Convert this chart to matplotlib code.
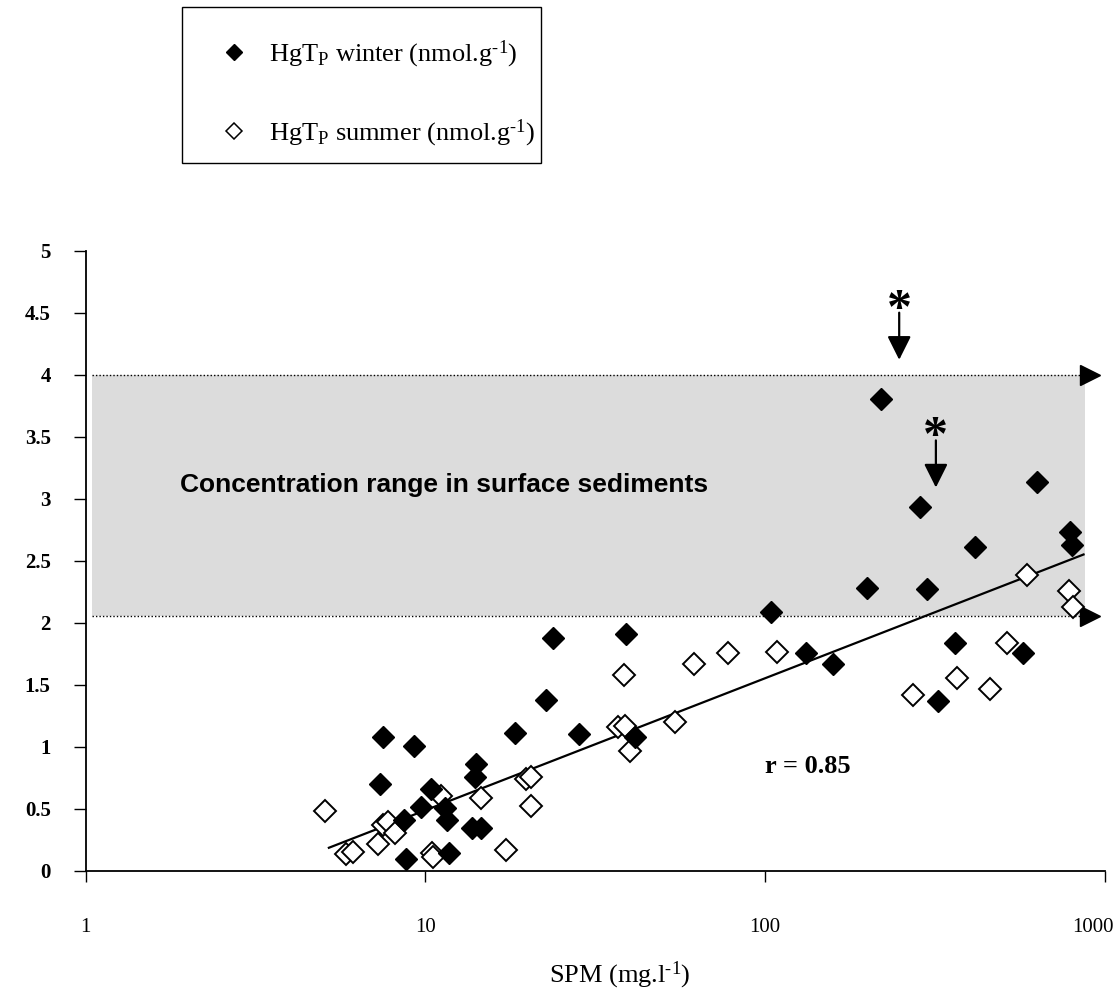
import matplotlib
matplotlib.use("Agg")
import matplotlib.pyplot as plt
import matplotlib.transforms as mtransforms
from matplotlib.lines import Line2D
from matplotlib.patches import Rectangle

plt.rcParams['font.family'] = ['Liberation Serif', 'DejaVu Serif']
plt.rcParams['mathtext.fontset'] = 'custom'
plt.rcParams['mathtext.rm'] = 'Liberation Serif'
plt.rcParams['mathtext.it'] = 'Liberation Serif:italic'
plt.rcParams['mathtext.bf'] = 'Liberation Serif:bold'

# HgTp winter (filled diamonds)
winter_spm = [23.7, 38.9, 22.6, 18.35, 28.4, 41.4, 7.49, 9.26, 14.09, 14.0,
              7.35, 10.36, 9.69, 11.42, 11.55, 8.65, 13.68, 14.55, 8.77, 11.76,
              131.8, 158, 361.8, 321.9, 572.7,
              219.6, 285.5, 629.6, 415.3, 788.9, 798, 198.9, 298.7, 103.8]
winter_hg = [1.874, 1.909, 1.377, 1.113, 1.10, 1.076, 1.076, 1.006, 0.858, 0.753,
             0.699, 0.656, 0.516, 0.503, 0.409, 0.409, 0.342, 0.342, 0.092, 0.14,
             1.753, 1.667, 1.834, 1.371, 1.758,
             3.804, 2.935, 3.132, 2.608, 2.729, 2.627, 2.277, 2.272, 2.084]

# HgTp summer (open diamonds)
summer_spm = [5.06, 5.84, 6.14, 7.24, 7.52, 7.78, 8.14, 11.1, 10.43, 10.5,
              14.6, 17.3, 19.8, 20.5, 20.4, 36.96, 38.7, 40.0, 38.4, 54.3,
              61.7, 77.6, 108.5, 272.9, 367.6, 458.7, 513.6, 588.5, 785, 806.5]
summer_hg = [0.484, 0.132, 0.153, 0.213, 0.369, 0.395, 0.306, 0.602, 0.14, 0.108,
             0.584, 0.167, 0.737, 0.758, 0.522, 1.161, 1.167, 0.965, 1.578, 1.202,
             1.667, 1.753, 1.761, 1.417, 1.557, 1.463, 1.834, 2.385, 2.258, 2.124]

# regression line end points
trend_spm = [5.2, 865]
trend_hg = [0.185, 2.55]

# surface sediment range
band_low, band_high = 2.05, 4.0
band_spm = [1.045, 873]
band_arrow_spm = 903

# flagged samples (asterisk + arrow)
flag_spm = [248, 318]
flag_top = [4.50, 3.47]
flag_tip = [4.12, 3.09]
flag_star = [4.42, 3.39]

x_ticks = [1, 10, 100, 1000]
x_ticklabels = ['1', '10', '100', '1000']
y_ticks = [0, 0.5, 1, 1.5, 2, 2.5, 3, 3.5, 4, 4.5, 5]
y_ticklabels = ['0', '0.5', '1', '1.5', '2', '2.5', '3', '3.5', '4', '4.5', '5']

fig = plt.figure(figsize=(11.16, 9.9), dpi=100)
ax = fig.add_axes([0.0767, 0.1205, 0.9134, 0.6263])

ax.fill_between(band_spm, band_low, band_high, color='#dcdcdc', lw=0, zorder=0)
ax.hlines([band_low, band_high], band_spm[0], band_spm[1], colors='k',
          linestyles=(0, (1, 1.5)), lw=1, zorder=1)
ax.plot([band_arrow_spm, band_arrow_spm], [band_high, band_low], ls='none',
        marker='>', ms=14.5, color='k', clip_on=False, zorder=2)

ax.plot(trend_spm, trend_hg, color='k', lw=1.6, zorder=2)

ax.plot(summer_spm, summer_hg, ls='none', marker='D', ms=11.2, mfc='white',
        mec='k', mew=1.4, clip_on=False, zorder=3)
ax.plot(winter_spm, winter_hg, ls='none', marker='D', ms=11.2, mfc='k',
        mec='k', mew=1, clip_on=False, zorder=4)

for x, top, tip, star in zip(flag_spm, flag_top, flag_tip, flag_star):
    ax.annotate('', xy=(x, tip), xytext=(x, top),
                arrowprops=dict(arrowstyle='-|>,head_length=0.5,head_width=0.25',
                                mutation_scale=29, lw=1.6, color='k',
                                shrinkA=0, shrinkB=0))
    ax.text(x, star, '*', ha='center', va='baseline', fontsize=36,
            fontweight='bold')

ax.text(1.9, 3.11, 'Concentration range in surface sediments',
        family=['Liberation Sans', 'DejaVu Sans'], fontweight='bold',
        fontsize=19, va='center', ha='left')
ax.text(100, 0.84, 'r = 0.85', fontweight='bold', fontsize=19,
        va='center', ha='left')

ax.set_xscale('log')
ax.set_xlim(1, 1000)
ax.set_ylim(0, 5)
ax.set_xticks(x_ticks)
ax.set_xticklabels(x_ticklabels, fontsize=15)
ax.xaxis.set_minor_locator(matplotlib.ticker.NullLocator())
ax.set_yticks(y_ticks)
ax.set_yticklabels(y_ticklabels, fontsize=15, fontweight='bold')

for side in ['top', 'right']:
    ax.spines[side].set_visible(False)
for side in ['left', 'bottom']:
    ax.spines[side].set_linewidth(1.3)
ax.tick_params(axis='y', direction='out', length=8.6, width=1, pad=16.5)
ax.tick_params(axis='x', direction='out', length=8, width=1, pad=26)

# keep the last x label inside the figure, as in the original
last = ax.get_xticklabels()[-1]
last.set_transform(last.get_transform() +
                   mtransforms.ScaledTranslation(-0.12, 0, fig.dpi_scale_trans))

ax.set_xlabel('SPM (mg.l$^{\\text{-1}}$)', fontsize=19)
ax.xaxis.set_label_coords(0.524, -0.168)
ax.xaxis.label.set_va('center')

handles = [
    Line2D([], [], ls='none', marker='D', ms=8, mfc='k', mec='k',
           label='HgT$_{\\mathrm{P}}$ winter (nmol.g$^{\\text{-1}}$)'),
    Line2D([], [], ls='none', marker='D', ms=8, mfc='white', mec='k', mew=1.1,
           label='HgT$_{\\mathrm{P}}$ summer (nmol.g$^{\\text{-1}}$)'),
]
fig.legend(handles=handles, loc='center left',
           bbox_to_anchor=(200 / 1116, 1 - 94 / 990), frameon=False,
           borderpad=0, fontsize=19, handlelength=1.6, handletextpad=0.5,
           labelspacing=1.8)
fig.add_artist(Rectangle((181.7 / 1116, 1 - 163 / 990), (541 - 181.7) / 1116,
                         (163 - 7.3) / 990, transform=fig.transFigure,
                         fill=False, ec='k', lw=1))

fig.savefig('out.png', dpi=100)
